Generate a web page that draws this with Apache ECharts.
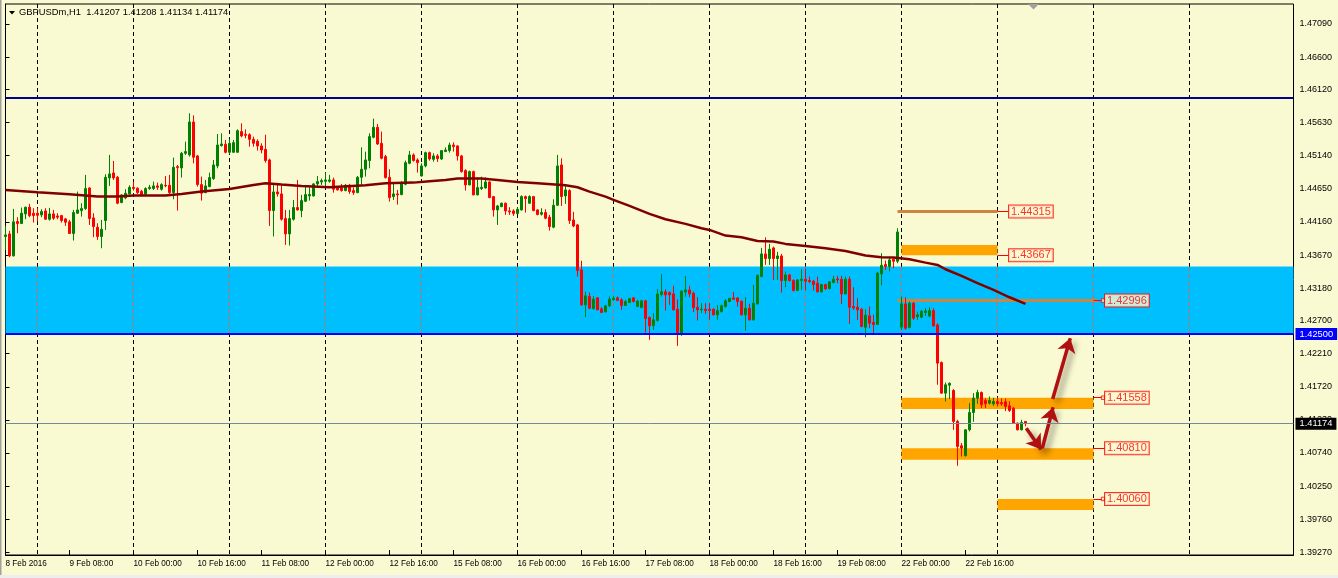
<!DOCTYPE html>
<html><head><meta charset="utf-8">
<script src="https://cdn.jsdelivr.net/npm/echarts@6/dist/echarts.min.js"></script>
<style>html,body{margin:0;padding:0;background:#FAFAD2;}#chart{width:1338px;height:578px;}</style>
</head><body><div id="chart"></div>
<script>
// ---------- data ----------
const headerText = 'GBPUSDm,H1  1.41207 1.41208 1.41134 1.41174';
const firstBarTime = Date.UTC(2016, 1, 8, 16);   // 8 Feb 2016 16:00, H1 bars
const slotCount = 323;                            // visible bar slots incl. chart shift
const yTickValues = [1.47090,1.46600,1.46120,1.45630,1.45140,1.44650,1.44160,1.43670,1.43180,1.42700,1.42210,1.41720,1.41230,1.40740,1.40250,1.39760,1.39270];
const yRange = [1.39230, 1.47386];
// [open, close, low, high]
const candles = [
[1.43944,1.43968,1.43746,1.44101],[1.43983,1.43658,1.43638,1.44028],[1.43658,1.44161,1.43648,1.44353],[1.44166,1.44136,1.43993,1.44230],
[1.44136,1.44289,1.44131,1.44373],[1.44279,1.44378,1.44200,1.44387],[1.44378,1.44254,1.44230,1.44427],[1.44289,1.44254,1.44151,1.44363],
[1.44289,1.44259,1.44166,1.44363],[1.44264,1.44313,1.44230,1.44348],[1.44323,1.44200,1.44190,1.44363],[1.44200,1.44279,1.44180,1.44368],
[1.44279,1.44215,1.44190,1.44338],[1.44249,1.44230,1.44200,1.44289],[1.44254,1.44180,1.44151,1.44264],[1.44205,1.44156,1.44101,1.44220],
[1.44161,1.43988,1.43983,1.44190],[1.43988,1.44299,1.43885,1.44338],[1.44289,1.44338,1.44279,1.44609],[1.44328,1.44358,1.44239,1.44437],
[1.44358,1.44654,1.44338,1.44856],[1.44663,1.44210,1.44116,1.44673],[1.44220,1.44092,1.43934,1.44289],[1.44082,1.43944,1.43894,1.44141],
[1.43944,1.44052,1.43771,1.44190],[1.44180,1.44821,1.44042,1.44866],[1.44811,1.44871,1.44693,1.45152],[1.44885,1.44811,1.44782,1.45063],
[1.44821,1.44437,1.44422,1.44841],[1.44447,1.44560,1.44437,1.44570],[1.44516,1.44585,1.44496,1.44644],[1.44575,1.44673,1.44565,1.44703],
[1.44673,1.44654,1.44624,1.44757],[1.44659,1.44594,1.44575,1.44673],[1.44614,1.44560,1.44545,1.44634],[1.44570,1.44654,1.44560,1.44673],
[1.44654,1.44673,1.44634,1.44708],[1.44654,1.44693,1.44634,1.44757],[1.44693,1.44673,1.44634,1.44742],[1.44644,1.44713,1.44624,1.44733],
[1.44703,1.44693,1.44673,1.44841],[1.44703,1.44594,1.44575,1.44856],[1.44594,1.44969,1.44496,1.45112],[1.44979,1.44964,1.44328,1.45004],
[1.44959,1.45176,1.44816,1.45196],[1.45176,1.45201,1.45152,1.45349],[1.45152,1.45640,1.45127,1.45768],[1.45640,1.45117,1.45028,1.45738],
[1.45137,1.44713,1.44683,1.45152],[1.44713,1.44585,1.44476,1.44831],[1.44594,1.44693,1.44585,1.44782],[1.44683,1.44816,1.44673,1.44890],
[1.44802,1.45004,1.44782,1.45078],[1.44989,1.45299,1.44954,1.45462],[1.45290,1.45314,1.45275,1.45472],[1.45309,1.45191,1.45176,1.45373],
[1.45191,1.45324,1.45166,1.45383],[1.45191,1.45334,1.45186,1.45373],[1.45191,1.45511,1.45186,1.45531],[1.45497,1.45433,1.45413,1.45620],
[1.45457,1.45442,1.45398,1.45531],[1.45452,1.45383,1.45275,1.45472],[1.45383,1.45324,1.45275,1.45423],[1.45354,1.45285,1.45216,1.45383],
[1.45285,1.45225,1.45176,1.45324],[1.45235,1.45068,1.45038,1.45452],[1.45078,1.44328,1.44101,1.45097],[1.44328,1.44604,1.43944,1.44723],
[1.44604,1.44575,1.44535,1.44723],[1.44575,1.44200,1.44180,1.44723],[1.44210,1.43983,1.43820,1.44338],[1.43983,1.44210,1.43811,1.44338],
[1.44200,1.44373,1.44180,1.44486],[1.44373,1.44338,1.44328,1.44782],[1.44328,1.44476,1.44230,1.44560],[1.44466,1.44565,1.44456,1.44708],
[1.44545,1.44565,1.44476,1.44673],[1.44545,1.44723,1.44535,1.44733],[1.44723,1.44757,1.44673,1.44841],[1.44752,1.44772,1.44708,1.44802],
[1.44762,1.44782,1.44693,1.44890],[1.44762,1.44782,1.44742,1.44856],[1.44782,1.44644,1.44594,1.44816],[1.44673,1.44634,1.44624,1.44693],
[1.44663,1.44624,1.44609,1.44723],[1.44624,1.44703,1.44614,1.44723],[1.44703,1.44609,1.44575,1.44723],[1.44624,1.44594,1.44560,1.44673],
[1.44594,1.44821,1.44585,1.44841],[1.44821,1.44940,1.44708,1.45265],[1.44940,1.45078,1.44831,1.45201],[1.45068,1.45423,1.44954,1.45472],
[1.45413,1.45561,1.45398,1.45689],[1.45561,1.45314,1.45299,1.45610],[1.45324,1.45102,1.45087,1.45497],[1.45127,1.44816,1.44802,1.45152],
[1.44821,1.44520,1.44461,1.44940],[1.44535,1.44575,1.44486,1.44733],[1.44575,1.44560,1.44417,1.44634],[1.44565,1.44733,1.44555,1.44762],
[1.44718,1.45038,1.44703,1.45068],[1.45028,1.45152,1.45014,1.45211],[1.45152,1.45068,1.45053,1.45176],[1.45078,1.45038,1.44890,1.45102],
[1.44841,1.44989,1.44831,1.45028],[1.44989,1.45186,1.44969,1.45201],[1.45186,1.45092,1.45068,1.45201],[1.45087,1.45137,1.45053,1.45176],
[1.45137,1.45097,1.45048,1.45166],[1.45092,1.45216,1.45078,1.45225],[1.45201,1.45225,1.45196,1.45265],[1.45216,1.45299,1.45186,1.45334],
[1.45299,1.45275,1.45201,1.45339],[1.45285,1.45137,1.45068,1.45295],[1.45137,1.44905,1.44890,1.45152],[1.44920,1.44708,1.44624,1.44940],
[1.44708,1.44905,1.44703,1.44920],[1.44905,1.44560,1.44555,1.44920],[1.44560,1.44668,1.44555,1.44821],[1.44654,1.44673,1.44634,1.44831],
[1.44663,1.44752,1.44654,1.44821],[1.44752,1.44520,1.44510,1.44762],[1.44535,1.44338,1.44239,1.44545],[1.44338,1.44397,1.44116,1.44412],
[1.44387,1.44437,1.44378,1.44447],[1.44437,1.44323,1.44264,1.44447],[1.44323,1.44309,1.44264,1.44378],[1.44323,1.44284,1.44249,1.44348],
[1.44284,1.44348,1.44279,1.44378],[1.44338,1.44535,1.44328,1.44555],[1.44535,1.44506,1.44299,1.44550],[1.44437,1.44535,1.44427,1.44555],
[1.44535,1.44328,1.44318,1.44545],[1.44338,1.44269,1.44259,1.44348],[1.44274,1.44299,1.44254,1.44363],[1.44299,1.44215,1.44200,1.44348],
[1.44230,1.44092,1.44032,1.44264],[1.44082,1.44407,1.44067,1.44496],[1.44407,1.44989,1.44397,1.45152],[1.45004,1.44535,1.44397,1.45102],
[1.44545,1.44634,1.44427,1.44703],[1.44624,1.44180,1.44131,1.44644],[1.44190,1.44101,1.44082,1.44309],[1.44116,1.43441,1.43352,1.44131],
[1.43451,1.42933,1.42918,1.43584],[1.42933,1.43066,1.42751,1.43130],[1.43056,1.42884,1.42869,1.43115],[1.42879,1.43017,1.42859,1.43066],
[1.43037,1.42859,1.42849,1.43046],[1.42874,1.42820,1.42810,1.42899],[1.42830,1.42918,1.42820,1.42933],[1.42918,1.43017,1.42899,1.43056],
[1.43007,1.43032,1.42997,1.43066],[1.43037,1.42997,1.42987,1.43056],[1.43007,1.42923,1.42859,1.43032],[1.42923,1.42982,1.42918,1.43007],
[1.42968,1.43027,1.42958,1.43037],[1.43037,1.42982,1.42968,1.43046],[1.42908,1.42987,1.42899,1.43007],[1.42893,1.42992,1.42883,1.43007],
[1.42992,1.42731,1.42523,1.43007],[1.42745,1.42622,1.42415,1.42760],[1.42627,1.42711,1.42563,1.42810],[1.42701,1.43095,1.42686,1.43164],
[1.43085,1.43125,1.43056,1.43386],[1.43125,1.43080,1.42849,1.43164],[1.43115,1.43080,1.42933,1.43130],[1.43095,1.42859,1.42849,1.43214],
[1.42869,1.42499,1.42326,1.43016],[1.42499,1.43135,1.42474,1.43154],[1.43125,1.43154,1.43056,1.43362],[1.43154,1.43095,1.43046,1.43214],
[1.43105,1.42893,1.42824,1.43130],[1.42898,1.42859,1.42701,1.43046],[1.42859,1.42869,1.42809,1.42957],[1.42869,1.42849,1.42799,1.42957],
[1.42869,1.42849,1.42711,1.42957],[1.42869,1.42785,1.42775,1.42879],[1.42785,1.42849,1.42711,1.42928],[1.42834,1.42918,1.42819,1.42938],
[1.42908,1.42992,1.42893,1.43016],[1.42982,1.43031,1.42972,1.43036],[1.43036,1.43016,1.43007,1.43125],[1.43036,1.42982,1.42908,1.43046],
[1.42987,1.42785,1.42775,1.42997],[1.42785,1.42883,1.42548,1.43046],[1.42883,1.42711,1.42701,1.42947],[1.42711,1.42957,1.42701,1.43228],
[1.42947,1.43371,1.42937,1.43381],[1.43352,1.43687,1.43342,1.43776],[1.43687,1.43618,1.43524,1.43933],[1.43618,1.43756,1.43524,1.43835],
[1.43776,1.43618,1.43302,1.43795],[1.43618,1.43657,1.43302,1.43717],[1.43657,1.43293,1.43115,1.43687],[1.43293,1.43376,1.43194,1.43426],
[1.43376,1.43293,1.43278,1.43391],[1.43293,1.43145,1.43130,1.43312],[1.43145,1.43302,1.43135,1.43312],[1.43293,1.43312,1.43154,1.43460],
[1.43312,1.43283,1.43145,1.43470],[1.43293,1.43278,1.43253,1.43352],[1.43283,1.43233,1.43145,1.43302],[1.43253,1.43125,1.43115,1.43352],
[1.43125,1.43233,1.43115,1.43243],[1.43233,1.43169,1.43154,1.43243],[1.43174,1.43273,1.43164,1.43283],[1.43263,1.43312,1.43253,1.43362],
[1.43317,1.43302,1.43253,1.43362],[1.43312,1.43095,1.42947,1.43362],[1.43095,1.43312,1.43085,1.43352],[1.43312,1.42898,1.42652,1.43352],
[1.42908,1.42888,1.42859,1.43194],[1.42898,1.42859,1.42711,1.43031],[1.42869,1.42612,1.42602,1.42883],[1.42602,1.42780,1.42454,1.42869],
[1.42770,1.42662,1.42588,1.42908],[1.42671,1.42642,1.42499,1.42785],[1.42642,1.43401,1.42632,1.43421],[1.43391,1.43519,1.43219,1.43697],
[1.43529,1.43499,1.43450,1.43588],[1.43499,1.43598,1.43426,1.43638],[1.43608,1.43578,1.43475,1.43618],[1.43578,1.44012,1.43549,1.44067],
[1.42602,1.42947,1.42562,1.43055],[1.42947,1.42587,1.42562,1.43045],[1.42597,1.42957,1.42587,1.42981],[1.42957,1.42735,1.42710,1.42976],
[1.42760,1.42784,1.42710,1.42833],[1.42750,1.42838,1.42735,1.42858],[1.42818,1.42843,1.42769,1.42883],[1.42769,1.42848,1.42750,1.42898],
[1.42848,1.42621,1.42611,1.42883],[1.42636,1.42070,1.41749,1.42660],[1.42079,1.41626,1.41616,1.42094],[1.41626,1.41749,1.41502,1.41783],
[1.41744,1.41773,1.41537,1.41783],[1.41665,1.41207,1.41083,1.41685],[1.41207,1.40837,1.40551,1.41231],[1.40847,1.40812,1.40689,1.40886],
[1.40699,1.41083,1.40689,1.41093],[1.41083,1.41340,1.41059,1.41478],[1.41340,1.41552,1.41202,1.41626],[1.41552,1.41635,1.41468,1.41675],
[1.41635,1.41453,1.41404,1.41650],[1.41517,1.41468,1.41404,1.41547],[1.41478,1.41517,1.41458,1.41576],[1.41468,1.41502,1.41438,1.41557],
[1.41502,1.41468,1.41428,1.41552],[1.41487,1.41468,1.41438,1.41547],[1.41497,1.41428,1.41359,1.41547],[1.41438,1.41369,1.41349,1.41507],
[1.41404,1.41182,1.41172,1.41419],[1.41182,1.41083,1.41074,1.41192],[1.41083,1.41192,1.41074,1.41232],[1.41207,1.41174,1.41134,1.41208]
];
// moving average read at sample bars: [barIndex, value]
const maPoints = [
[0,1.44634],[8,1.44599],[16,1.44570],[23,1.44535],[28,1.44535],[32,1.44550],[40,1.44550],[44,1.44575],[49,1.44609],[56,1.44649],
[62,1.44708],[65,1.44733],[69,1.44713],[74,1.44693],[81,1.44673],[90,1.44703],[95,1.44733],[102,1.44742],[106,1.44762],[110,1.44782],
[113,1.44802],[119,1.44802],[123,1.44782],[128,1.44752],[133,1.44733],[140,1.44703],[143,1.44673],[146,1.44609],[150,1.44535],[152,1.44486],
[156,1.44397],[161,1.44279],[165,1.44200],[170,1.44131],[174,1.44067],[176,1.44042],[180,1.43958],[184,1.43933],[188,1.43879],[192,1.43869],
[195,1.43835],[200,1.43805],[205,1.43771],[210,1.43731],[215,1.43662],[219,1.43638],[222,1.43633],[226,1.43607],[230,1.43558],[233,1.43524],
[235,1.43460],[239,1.43361],[243,1.43253],[247,1.43154],[251,1.43045],[255,1.42947]
];
const topResistance = 1.46000;
const blueZone = [1.42500, 1.43500];
const zoneFloor = 1.42500;
const lastPrice = 1.41174;
// [fromBar, toBar, low, high]
const orangeZones = [[224,248,1.43667,1.43819],[224,272,1.41390,1.41558],[224,272,1.40640,1.40810],[248,272,1.39897,1.40060]];
// [fromBar, toBar, price]
const trendLevels = [[223,248,1.44315],[223,273,1.42996]];
// [anchorBar, price, hasSquare]
const levelTags = [[248,1.44315,0],[248,1.43667,0],[272,1.42996,1],[272,1.41558,1],[272,1.40810,0],[272,1.40060,1]];
// arrows: [[fromBar, fromPrice],[toBar, toPrice]]
const arrowPaths = [[[255.2,1.41106],[258.9,1.40793]],[[259.2,1.40810],[261.9,1.41417]],[[261.8,1.41540],[266.2,1.42438]]];

// ---------- build categories (H1, weekends skipped) ----------
const MONTHS = ['Jan','Feb','Mar','Apr','May','Jun','Jul','Aug','Sep','Oct','Nov','Dec'];
const barTimes = [];
{ let t = firstBarTime;
  for (let i = 0; i < slotCount; i++) {
    barTimes.push(t); t += 3600e3;
    if (new Date(t).getUTCDay() === 6) t += 48 * 3600e3;
  } }
const categories = barTimes.map((t, i) => {
  const d = new Date(t);
  const hh = String(d.getUTCHours()).padStart(2, '0');
  return i === 0 ? `${d.getUTCDate()} ${MONTHS[d.getUTCMonth()]} ${d.getUTCFullYear()}`
                 : `${d.getUTCDate()} ${MONTHS[d.getUTCMonth()]} ${hh}:00`;
});
const dayStarts = barTimes.map((t, i) => (new Date(t).getUTCHours() === 0 && i <= 300) ? i : -1).filter(i => i >= 0);
const isDayStart = i => dayStarts.indexOf(i) >= 0;
const isLabelBar = i => i % 16 === 0 && i < candles.length;

const BG = '#FAFAD2';
const FONT = 'Liberation Sans, Arial, sans-serif';
const TAG_GAP = 2.75, SQUARE_GAP = 2.4;

const chart = echarts.init(document.getElementById('chart'), null, {renderer: 'canvas'});
chart.setOption({
  animation: false,
  backgroundColor: BG,
  title: {text: headerText, left: 19, top: 8, padding: 0,
    textStyle: {fontSize: 9.4, fontWeight: 'normal', color: '#000', fontFamily: FONT}},
  graphic: [
    {type: 'polygon', shape: {points: [[9,11],[15,11],[12,14.5]]}, style: {fill: '#000'}},
    {type: 'polygon', shape: {points: [[1028,4],[1039,4],[1033.5,9.5]]}, style: {fill: '#A0A0A0'}},
    {type: 'rect', shape: {x: 0, y: 0, width: 1.5, height: 578}, style: {fill: '#A0A0A0'}},
    {type: 'rect', shape: {x: 0, y: 575, width: 1338, height: 3}, style: {fill: '#EEEEEE'}}
  ],
  grid: {left: 5.5, right: 44.5, top: 4, bottom: 23, show: true, borderColor: '#000', borderWidth: 1, backgroundColor: 'transparent'},
  xAxis: [
    {type: 'category', data: categories, boundaryGap: false,
      axisLine: {lineStyle: {color: '#000', width: 1}},
      axisTick: {show: true, inside: true, length: 5, interval: isLabelBar, lineStyle: {color: '#000'}},
      axisLabel: {interval: isLabelBar, align: 'left', margin: 5, fontSize: 8.2, color: '#000', fontFamily: FONT},
      splitLine: {show: true, interval: isDayStart, lineStyle: {color: '#000', type: [4,3], width: 1}}},
    {type: 'value', min: 0, max: slotCount - 1, show: false}
  ],
  yAxis: {type: 'value', position: 'right', min: yRange[0], max: yRange[1],
    axisLine: {show: true, lineStyle: {color: '#000'}},
    axisTick: {show: true, length: 4, customValues: yTickValues, lineStyle: {color: '#000'}},
    axisLabel: {customValues: yTickValues, formatter: v => v.toFixed(5), margin: 6, fontSize: 9, color: '#000', fontFamily: FONT},
    splitLine: {show: false}},
  series: [
    {type: 'line', xAxisIndex: 1, data: [], z: 1, silent: true,
      markArea: {silent: true, precision: 6, data: [
        [{yAxis: blueZone[0], itemStyle: {color: '#00BFFF'}}, {yAxis: blueZone[1]}],
        ...orangeZones.map(z => [{xAxis: z[0], yAxis: z[3], itemStyle: {color: '#FFA500'}}, {xAxis: z[1], yAxis: z[2]}])
      ]},
      markLine: {silent: true, symbol: 'none', precision: 6, data: [
        {yAxis: topResistance, lineStyle: {color: '#00008B', width: 2, type: 'solid'}, label: {show: false}},
        {yAxis: zoneFloor, lineStyle: {color: '#0000FF', width: 2, type: 'solid'},
          label: {show: true, position: 'end', distance: 2, formatter: zoneFloor.toFixed(5), color: '#fff', backgroundColor: '#0000FF',
            padding: [1,4,1,4], fontSize: 9.3, lineHeight: 10, fontFamily: FONT}},
        {yAxis: lastPrice, lineStyle: {color: '#778899', width: 1, type: 'solid'},
          label: {show: true, position: 'end', distance: 2, formatter: lastPrice.toFixed(5), color: '#fff', backgroundColor: '#000',
            padding: [1,4,1,4], fontSize: 9.3, lineHeight: 10, fontFamily: FONT}}
      ]}},
    {type: 'lines', coordinateSystem: 'cartesian2d', xAxisIndex: 1, z: 1, silent: true,
      lineStyle: {color: '#E8604A', width: 1, type: [4,3], opacity: 1},
      data: dayStarts.map(i => ({coords: [[i, blueZone[0]], [i, blueZone[1]]]}))},
    {type: 'lines', coordinateSystem: 'cartesian2d', xAxisIndex: 1, z: 1, silent: true,
      lineStyle: {color: '#CD853F', width: 3, opacity: 1},
      data: trendLevels.map(l => ({coords: [[l[0], l[2]], [l[1], l[2]]]}))},
    {type: 'candlestick', xAxisIndex: 0, z: 2, barWidth: 2, silent: true,
      itemStyle: {color: '#008000', color0: '#FF0000', borderColor: '#008000', borderColor0: '#FF0000', borderWidth: 1},
      data: candles},
    {type: 'line', xAxisIndex: 1, z: 3, data: maPoints, showSymbol: false, symbol: 'none', silent: true,
      lineStyle: {color: '#800000', width: 2.5}},
    {type: 'lines', coordinateSystem: 'cartesian2d', xAxisIndex: 1, z: 4, silent: true,
      symbol: ['none', 'arrow'], symbolSize: 14,
      lineStyle: {color: '#B01010', width: 3.5, opacity: 1, shadowBlur: 6, shadowColor: 'rgba(0,0,0,0.45)', shadowOffsetX: 4, shadowOffsetY: 4},
      data: arrowPaths.map(a => ({coords: a}))},
    {type: 'lines', coordinateSystem: 'cartesian2d', xAxisIndex: 1, z: 5, silent: true,
      lineStyle: {color: '#FF0000', width: 1, opacity: 1},
      data: levelTags.map(t => ({coords: [[t[0], t[1]], [t[0] + TAG_GAP, t[1]]]}))},
    {type: 'scatter', xAxisIndex: 1, z: 6, silent: true, symbol: 'rect', symbolSize: 3.5,
      itemStyle: {color: BG, borderColor: '#FF0000', borderWidth: 1},
      data: levelTags.filter(t => t[2]).map(t => [t[0] + SQUARE_GAP, t[1]])},
    {type: 'scatter', xAxisIndex: 1, z: 7, silent: true, symbolSize: 1, itemStyle: {color: 'rgba(0,0,0,0)'},
      label: {show: true, position: 'right', distance: 0, formatter: p => p.value[1].toFixed(5),
        color: '#FF0000', backgroundColor: BG, borderColor: '#FF0000', borderWidth: 1,
        padding: [1,2,0,2], fontSize: 11, lineHeight: 11, fontFamily: FONT},
      data: levelTags.map(t => [t[0] + TAG_GAP, t[1]])}
  ]
});
</script></body></html>
